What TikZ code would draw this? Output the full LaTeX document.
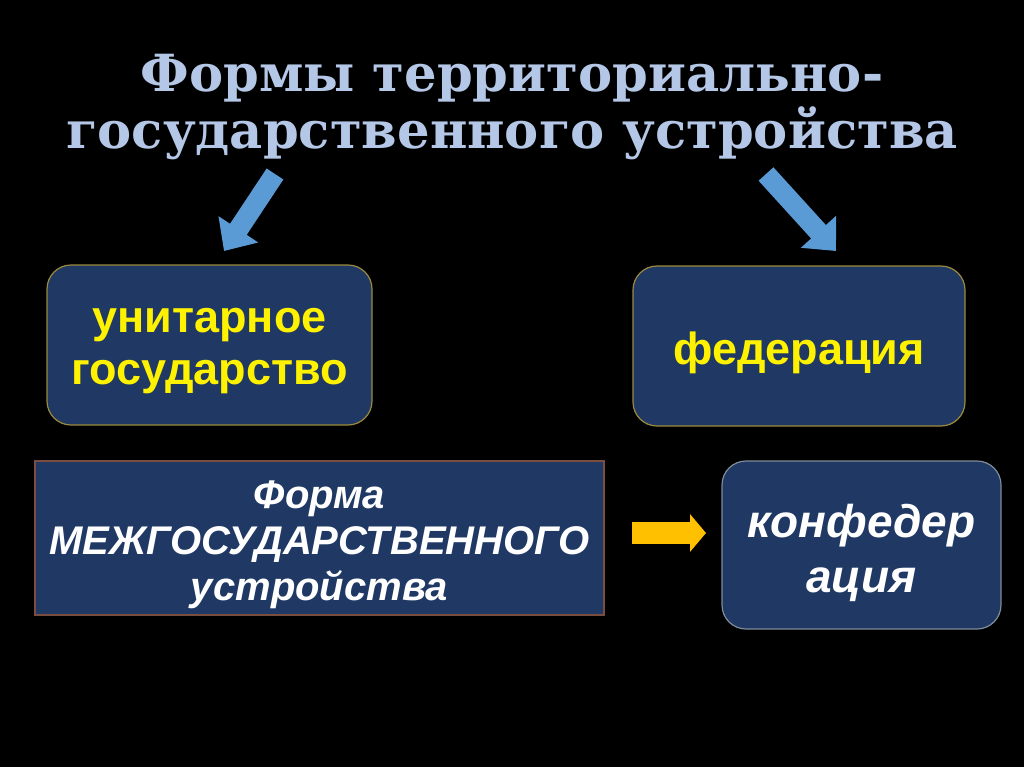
\documentclass[tikz,border=0pt]{standalone}
\usepackage{fontspec}
\setmainfont{Liberation Sans}
\newfontfamily\titlefont{DejaVu Serif}
\usetikzlibrary{arrows.meta, positioning}
\definecolor{navybox}{HTML}{1F3864}
\definecolor{titleblue}{HTML}{B4C7E7}
\definecolor{arrowblue}{HTML}{5B9BD5}
\definecolor{arrowgold}{HTML}{FFC000}
\definecolor{goldline}{HTML}{9C8A3C}
\definecolor{brownline}{HTML}{7A4E3E}
\definecolor{grayline}{HTML}{7F8C99}

\begin{document}
\begin{tikzpicture}[x=0.5pt, y=-0.5pt,
formbox/.style={draw=goldline, line width=0.6pt, fill=navybox, rounded corners=12pt},
interbox/.style={formbox, rounded corners=0pt, draw=brownline},
confbox/.style={formbox, draw=grayline},
formtext/.style={align=center, text=yellow, font=\bfseries\fontsize{22.5}{26}\selectfont},
intertext/.style={align=center, text=white, font=\bfseries\itshape\fontsize{20}{23}\selectfont},
conftext/.style={align=center, text=white, font=\bfseries\itshape\fontsize{23}{27.5}\selectfont},
bluearrow/.style={draw=arrowblue, line width=10pt, -{Triangle[length=13pt, width=23pt]}},
goldarrow/.style={draw=arrowgold, line width=11pt, -{Triangle[length=8pt, width=18.5pt]}}
]
% background
\fill[black] (0,0) rectangle (1024,767);
\useasboundingbox (0,0) rectangle (1024,767);
% heading
\node[font=\titlefont\bfseries\fontsize{25.6}{28.5}\selectfont, text=titleblue, align=center] (title) at (512,107) {Формы территориально-\\государственного устройства};
% boxes
\node[formbox, minimum width=162.5pt, minimum height=80pt] (unitary) at (209.5,345) {};
\node[formbox, minimum width=166pt, minimum height=80pt] (federation) at (799,346) {};
\node[interbox, minimum width=284.5pt, minimum height=77pt] (interstate) at (319.5,538) {};
\node[confbox, minimum width=139.5pt, minimum height=84pt] (confederation) at (861.5,545) {};
% texts in the boxes
\node[formtext] (unitary-text) at ([yshift=-3pt]unitary.center) {унитарное\\государство};
\node[formtext] (federation-text) at ([yshift=-3.5pt]federation.center) {федерация};
\node[intertext] (interstate-text) at ([yshift=-3.5pt]interstate.center) {Форма\\МЕЖГОСУДАРСТВЕННОГО\\устройства};
\node[conftext] (confederation-text) at ([yshift=-4pt]confederation.center) {конфедер\\ация};
% arrow ends
\coordinate (leftstart) at (275,174);
\coordinate (leftend) at (224,251);
\coordinate (rightstart) at (766,174);
\coordinate (rightend) at (836,251);
\coordinate (goldstart) at (632,533);
\coordinate (goldend) at (706,533);
\draw[bluearrow] (leftstart) -- (leftend);
\draw[bluearrow] (rightstart) -- (rightend);
\draw[goldarrow] (goldstart) -- (goldend);
\end{tikzpicture}
\end{document}
